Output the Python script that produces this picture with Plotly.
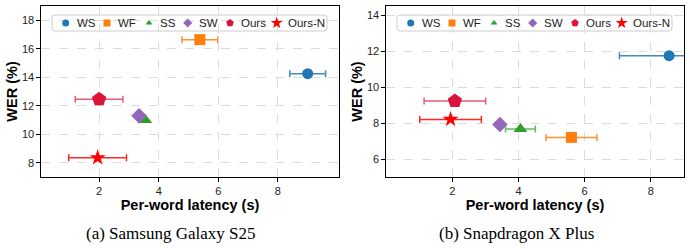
import plotly.graph_objects as go

# ---------------- data ----------------
methods = ["WS", "WF", "SS", "SW", "Ours", "Ours-N"]

s25_latency = [9.0, 5.38, 3.55, 3.34, 2.0, 1.95]
s25_latency_err = [0.6, 0.6, 0.0, 0.0, 0.8, 0.97]
s25_wer = [14.25, 16.64, 11.0, 11.29, 12.46, 8.35]

xp_latency = [8.55, 5.6, 4.06, 3.44, 2.08, 1.95]
xp_latency_err = [1.5, 0.77, 0.45, 0.0, 0.93, 0.93]
xp_wer = [11.74, 7.2, 7.67, 7.92, 9.22, 8.2]

x_ticks = [2, 4, 6, 8]
s25_y_ticks = [8, 10, 12, 14, 16, 18]
xp_y_ticks = [6, 8, 10, 12, 14]

captions = ["(a) Samsung Galaxy S25", "(b) Snapdragon X Plus"]
x_title = "Per-word latency (s)"
y_title = "WER (%)"

# ---------------- styles ----------------
W, H = 690, 249
colors = ["#1f77b4", "#ff7f0e", "#2ca02c", "#9467bd", "#dc143c", "#ff0000"]
err_colors = ["rgba(31,119,180,0.85)", "rgba(255,127,14,0.85)", "rgba(44,160,44,0.75)",
              "rgba(148,103,189,0.8)", "rgba(220,20,60,0.7)", "rgba(255,0,0,0.85)"]
symbols = ["circle", "square", "triangle-up", "diamond", "pentagon", "star"]
sizes = [11, 11, 12, 12, 15, 12]
leg_sizes = [7, 7, 6, 7, 8, 9]

SANS = "Liberation Sans, Arial, sans-serif"
SERIF = "Liberation Serif, Times New Roman, serif"

panels = [
    dict(px0=41, px1=339, xr=[0.05, 10.05], yr=[7, 19], yt=s25_y_ticks,
         lat=s25_latency, err=s25_latency_err, wer=s25_wer),
    dict(px0=386, px1=684, xr=[0, 9], yr=[5, 14.5], yt=xp_y_ticks,
         lat=xp_latency, err=xp_latency_err, wer=xp_wer),
]
PY0, PY1 = 6, 177  # top, bottom pixel rows of plot frames

fig = go.Figure()
layout = dict(width=W, height=H, autosize=False,
              margin=dict(l=0, r=0, t=0, b=0),
              paper_bgcolor="white", plot_bgcolor="white",
              showlegend=False, shapes=[], annotations=[])

ydom = [1 - PY1 / H, 1 - PY0 / H]
leg_marker_off = [65.7, 107, 149, 187.7, 230, 276.7]
leg_text_gap = 9

for i, p in enumerate(panels):
    xa = "x" if i == 0 else "x2"
    ya = "y" if i == 0 else "y2"
    xkey = "xaxis" if i == 0 else "xaxis2"
    ykey = "yaxis" if i == 0 else "yaxis2"
    xdom = [p["px0"] / W, p["px1"] / W]

    axis_common = dict(showline=True, linecolor="black", linewidth=1.3, mirror=True,
                       ticks="outside", ticklen=3.5, tickwidth=1, tickcolor="black",
                       showgrid=True, gridcolor="#dcdcdc", gridwidth=0.8, griddash="dash",
                       zeroline=False,
                       tickfont=dict(family=SANS, size=11, color="#222"))
    layout[xkey] = dict(axis_common, domain=xdom, range=p["xr"], tickvals=x_ticks,
                        anchor=ya,
                        title=dict(text="<b>" + x_title + "</b>", standoff=4,
                                   font=dict(family=SANS, size=14.5, color="black")))
    layout[ykey] = dict(axis_common, domain=ydom, range=p["yr"], tickvals=p["yt"],
                        anchor=xa,
                        title=dict(text="<b>" + y_title + "</b>", standoff=0,
                                   font=dict(family=SANS, size=14.5, color="black")))

    for k, m in enumerate(methods):
        fig.add_trace(go.Scatter(
            x=[p["lat"][k]], y=[p["wer"][k]], xaxis=xa, yaxis=ya, mode="markers",
            name=m,
            marker=dict(symbol=symbols[k], size=sizes[k], color=colors[k],
                        line=dict(width=0)),
            error_x=dict(type="data", array=[p["err"][k]], visible=p["err"][k] > 0,
                         color=err_colors[k], thickness=1.5, width=3.5),
        ))

    # ---- hand-built legend on a pixel-unit overlay axis ----
    ox = "x%d" % (3 + 2 * i)
    oy = "y%d" % (3 + 2 * i)
    layout["xaxis%d" % (3 + 2 * i)] = dict(overlaying=xa, range=[p["px0"], p["px1"]],
                                           visible=False, anchor=oy, showgrid=False)
    layout["yaxis%d" % (3 + 2 * i)] = dict(overlaying=ya, range=[PY1, PY0],
                                           visible=False, anchor=ox, showgrid=False)
    off = 0 if i == 0 else 345
    bx0, bx1, by0, by1, r = 52 + off, 327 + off, 15, 31, 3
    path = (f"M{bx0+r},{by0} L{bx1-r},{by0} Q{bx1},{by0} {bx1},{by0+r} "
            f"L{bx1},{by1-r} Q{bx1},{by1} {bx1-r},{by1} L{bx0+r},{by1} "
            f"Q{bx0},{by1} {bx0},{by1-r} L{bx0},{by0+r} Q{bx0},{by0} {bx0+r},{by0} Z")
    layout["shapes"].append(dict(type="path", path=path, xref=ox, yref=oy,
                                 fillcolor="rgba(255,255,255,0.85)",
                                 line=dict(color="#cccccc", width=1), layer="below"))
    ly = 23
    for k, m in enumerate(methods):
        mx = leg_marker_off[k] + off
        fig.add_trace(go.Scatter(x=[mx], y=[ly], xaxis=ox, yaxis=oy, mode="markers",
                                 hoverinfo="skip",
                                 marker=dict(symbol=symbols[k], size=leg_sizes[k],
                                             color=colors[k], line=dict(width=0))))
        layout["annotations"].append(dict(
            x=mx + leg_text_gap, y=ly, xref=ox, yref=oy, text=m, showarrow=False,
            xanchor="left", yanchor="middle",
            font=dict(family=SANS, size=11.5, color="#222")))

    # caption
    layout["annotations"].append(dict(
        x=(171 + off) / W, y=1 - 233 / H, xref="paper", yref="paper",
        text=captions[i], showarrow=False, xanchor="center", yanchor="middle",
        font=dict(family=SERIF, size=17, color="black")))

fig.update_layout(**layout)
fig.write_html("out.html")
